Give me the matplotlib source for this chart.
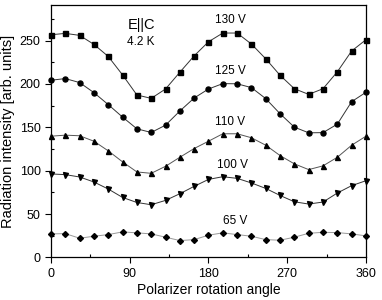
import numpy as np
import matplotlib
matplotlib.use("Agg")
import matplotlib.pyplot as plt
from matplotlib.ticker import MultipleLocator

plt.rcParams['font.family'] = ['Liberation Sans', 'DejaVu Sans']

angles = np.linspace(0, 360, 23)

v130 = [256.7, 258.3, 256.0, 245.6, 231.7, 210.4, 187.3, 183.4, 194.2, 213.5, 232.4, 248.6,
        258.7, 258.7, 246.0, 229.0, 210.0, 194.5, 188.0, 194.5, 214.0, 238.0, 251.0]
v125 = [204.3, 206.2, 201.6, 190.0, 176.2, 161.8, 148.3, 144.1, 152.5, 168.8, 183.8, 194.2,
        200.4, 200.2, 195.8, 183.1, 165.7, 150.2, 143.7, 143.9, 153.7, 179.6, 190.4]
v110 = [139.8, 141.0, 140.3, 134.0, 122.9, 110.2, 98.6, 97.0, 105.1, 115.5, 125.6, 134.0,
        142.6, 142.6, 138.0, 129.4, 117.5, 107.9, 101.3, 105.6, 115.5, 129.4, 139.8]
v100 = [96.3, 95.5, 92.8, 87.0, 78.9, 69.2, 63.4, 60.8, 65.8, 73.5, 82.0, 90.0,
        93.1, 91.2, 85.9, 79.6, 71.5, 64.2, 61.6, 63.9, 74.3, 82.8, 88.5]
v65 = [27.2, 27.5, 22.2, 24.5, 26.4, 29.5, 28.4, 27.2, 23.4, 19.5, 20.6, 25.7,
       28.4, 26.4, 24.5, 20.6, 19.9, 23.4, 27.9, 29.0, 28.7, 27.2, 24.9]

series = [("130 V", v130, 's', '#333333'),
          ("125 V", v125, 'o', '#333333'),
          ("110 V", v110, '^', '#555555'),
          ("100 V", v100, 'v', '#333333'),
          ("65 V", v65, 'D', '#999999')]
label_pos = {"130 V": 274, "125 V": 215, "110 V": 156, "100 V": 107, "65 V": 41.5}
label_x = {"130 V": 205, "125 V": 205, "110 V": 205, "100 V": 208, "65 V": 210}

xticks = [0, 90, 180, 270, 360]
yticks = [0, 50, 100, 150, 200, 250]

fig = plt.figure(figsize=(3.82, 3.0), dpi=100)
ax = fig.add_axes([0.1335, 0.1417, 0.8245, 0.8416])

for name, vals, m, lc in series:
    ms = 3.6 if m != 'D' else 3.0
    ax.plot(angles, vals, '-', color=lc, lw=0.7, marker=m, ms=ms,
            mfc='black', mec='black', clip_on=False, zorder=3)
    ax.text(label_x[name], label_pos[name], name, fontsize=8.5, ha='center', va='center')

ax.text(103, 268, "E||C", fontsize=10.5, ha='center', va='center')
ax.text(103, 248, "4.2 K", fontsize=8.5, ha='center', va='center')

ax.set_xlim(0, 360)
ax.set_ylim(0, 291)
ax.set_xticks(xticks)
ax.set_yticks(yticks)
ax.xaxis.set_minor_locator(MultipleLocator(45))
ax.yaxis.set_minor_locator(MultipleLocator(25))
ax.tick_params(which='major', direction='out', length=4, width=0.8, labelsize=9)
ax.tick_params(which='minor', direction='in', length=2.5, width=0.8)
for s in ax.spines.values():
    s.set_linewidth(0.9)

ax.set_xlabel("Polarizer rotation angle", fontsize=10, labelpad=2)
ax.set_ylabel("Radiation intensity [arb. units]", fontsize=10.5, labelpad=3)

fig.savefig("out.png", dpi=100)
